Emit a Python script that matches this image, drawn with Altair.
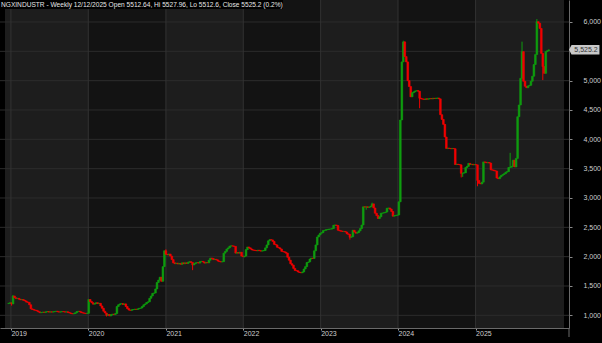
import altair as alt
import pandas as pd

# ---------------- data (weekly closes) ----------------
c2018 = [1205, 1215]
c2019 = [1195, 1330, 1300, 1285, 1290, 1275, 1265, 1270, 1255, 1245,
         1225, 1220, 1180, 1110, 1100, 1090, 1085, 1075, 1060, 1045,
         1050, 1055, 1050, 1060, 1065, 1055, 1060, 1055, 1060, 1065,
         1070, 1060, 1055, 1060, 1065, 1060, 1055, 1060, 1050, 1040,
         1030, 1025, 1030, 1045, 1065, 1070, 1060, 1045, 1040, 1035,
         1030, 1035]
c2020 = [1270, 1235, 1215, 1190, 1200, 1215, 1200, 1205, 1160, 1120,
         1070, 1040, 1000, 1015, 990, 1010, 1020, 1015, 1030, 1150,
         1180, 1195, 1200, 1185, 1195, 1150, 1115, 1090, 1085, 1095,
         1100, 1105, 1100, 1110, 1120, 1125, 1150, 1180, 1195, 1220,
         1230, 1290, 1330, 1375, 1380, 1450, 1560, 1600, 1650, 1580,
         1830, 2100]
c2021 = [2040, 2030, 2045, 2010, 1950, 1895, 1880, 1890, 1875, 1885,
         1870, 1895, 1880, 1895, 1885, 1905, 1915, 1900, 1860, 1880,
         1895, 1900, 1890, 1915, 1920, 1910, 1890, 1900, 1895, 1940,
         1975, 1970, 1950, 1955, 1945, 1925, 1915, 1910, 1915, 2060,
         2090, 2130, 2150, 2180, 2185, 2180, 2175, 2060, 2070, 2060,
         2075, 2010, 2000]
c2022 = [2010, 2120, 2165, 2150, 2130, 2115, 2110, 2105, 2100, 2110,
         2100, 2095, 2100, 2105, 2150, 2200, 2270, 2290, 2285, 2260,
         2210, 2200, 2160, 2150, 2130, 2090, 2085, 2075, 2060, 1990,
         1940, 1880, 1855, 1800, 1765, 1760, 1740, 1730, 1725, 1740,
         1790, 1830, 1900, 1910, 1960, 1975, 1970, 2100, 2200, 2335,
         2370, 2400]
c2023 = [2410, 2445, 2450, 2460, 2465, 2470, 2470, 2480, 2535, 2540,
         2530, 2450, 2440, 2435, 2430, 2430, 2420, 2390, 2380, 2330,
         2340, 2450, 2420, 2400, 2410, 2440, 2480, 2540, 2850, 2845,
         2850, 2840, 2845, 2860, 2900, 2830, 2740, 2700, 2650, 2680,
         2740, 2745, 2750, 2760, 2825, 2830, 2810, 2770, 2690, 2700,
         2705, 2710]
c2024 = [2935, 4330, 5320, 5660, 5410, 5320, 5000, 4900, 4725, 4795,
         4810, 4825, 4830, 4820, 4700, 4690, 4685, 4680, 4690, 4685,
         4690, 4695, 4690, 4700, 4695, 4700, 4705, 4690, 4420, 4340,
         4255, 4040, 3845, 3850, 3845, 3840, 3845, 3840, 3570, 3575,
         3570, 3565, 3420, 3425, 3430, 3520, 3540, 3590, 3570, 3575,
         3565, 3570]
c2025 = [3565, 3300, 3250, 3240, 3270, 3615, 3610, 3600, 3605, 3595,
         3480, 3475, 3465, 3460, 3340, 3330, 3360, 3385, 3400, 3415,
         3440, 3450, 3520, 3525, 3540, 3645, 3530, 3675, 4385, 4585,
         5040, 5495, 4990, 4905, 4880, 4910, 4920, 4990, 5075, 5275,
         5445, 6005, 5980, 5890, 5465, 5240, 5125, 5495, 5510, 5525.2]
first_open = 1200

# wicks that reach beyond the bodies: (year, week index, value)
wick_high = [(2019, 1, 1345), (2021, 0, 2125), (2024, 3, 5680), (2024, 4, 5670),
             (2025, 23, 3770), (2025, 31, 5665), (2025, 41, 6050), (2023, 34, 2920)]
wick_low = [(2019, 0, 1165), (2020, 12, 980), (2021, 18, 1770), (2022, 0, 1990),
            (2023, 19, 2290), (2024, 14, 4530), (2024, 42, 3350), (2024, 43, 3360),
            (2025, 1, 3200), (2025, 45, 5010), (2023, 30, 2800)]

grid_values = [1000, 1500, 2000, 2500, 3000, 3500, 4000, 4500, 5000, 5500, 6000]
y_labels = [1000, 1500, 2000, 2500, 3000, 3500, 4000, 4500, 5000, 6000]  # 5,500 is hidden by the price tag
year_ticks = [2019, 2020, 2021, 2022, 2023, 2024, 2025]
title_text = "NGXINDUSTR - Weekly 12/12/2025 Open 5512.64, Hi 5527.96, Lo 5512.6, Close 5525.2 (0.2%)"

by_year = {2018: c2018, 2019: c2019, 2020: c2020, 2021: c2021,
           2022: c2022, 2023: c2023, 2024: c2024, 2025: c2025}

rows = []
prev = first_open
for yr, vals in by_year.items():
    start = "2018-12-15" if yr == 2018 else f"{yr}-01-01"
    dates = pd.date_range(start, f"{yr}-12-31", freq="W-FRI")
    for k, (d, c) in enumerate(zip(dates, vals)):
        o = prev
        rows.append(dict(date=d.strftime("%Y-%m-%d"), year=yr, wk=k, open=o, close=c,
                         high=max(o, c), low=min(o, c)))
        prev = c
df = pd.DataFrame(rows)
for yr, k, v in wick_high:
    df.loc[(df.year == yr) & (df.wk == k), "high"] = v
for yr, k, v in wick_low:
    df.loc[(df.year == yr) & (df.wk == k), "low"] = v

# ---------------- styling ----------------
W, H = 569, 328
UP, DOWN = "#0f9c0f", "#f00000"
FONT = "Liberation Sans"
x_dom = ["2018-12-04", "2026-02-22"]
xscale = alt.Scale(domain=x_dom)
yscale = alt.Scale(domain=[784, 6375], nice=False, zero=False)

xaxis = alt.Axis(values=[alt.DateTime(year=y, month=1, date=1) for y in year_ticks],
                 format="%Y", labelAlign="left", labelAngle=0, labelColor="#cfcfcf",
                 labelFontSize=7, labelFont=FONT, labelPadding=-1, labelBaseline="top",
                 tickSize=2, tickColor="#9a9a9a", domainColor="#6a6a6a",
                 grid=False, title=None, labelFlush=False, labelOverlap=False)
yaxis = alt.Axis(orient="right", values=y_labels, format=",.0f", labelColor="#cfcfcf",
                 labelFontSize=7, labelFont=FONT, labelPadding=11, tickSize=3,
                 tickColor="#8a8a8a", domainColor="#6a6a6a", grid=False, title=None,
                 labelAlign="left", labelBaseline="middle", labelFlush=False)

# year bands
band_rows = []
edges = [x_dom[0]] + [f"{y}-01-01" for y in year_ticks[1:]] + [x_dom[1]]
for i in range(len(edges) - 1):
    band_rows.append(dict(start=edges[i], end=edges[i + 1], shade="light" if i % 2 == 0 else "dark"))
bands = alt.Chart(pd.DataFrame(band_rows)).mark_rect().encode(
    x=alt.X("start:T", scale=xscale, axis=xaxis),
    x2="end:T",
    color=alt.Color("shade:N", scale=alt.Scale(domain=["light", "dark"], range=["#1d1d1d", "#131313"]), legend=None),
)

hgrid = alt.Chart(pd.DataFrame({"v": grid_values})).mark_rule(color="#2c2c2c", strokeWidth=1).encode(
    y=alt.Y("v:Q", scale=yscale, axis=yaxis))
vgrid = alt.Chart(pd.DataFrame({"d": [f"{y}-01-01" for y in year_ticks]})).mark_rule(
    color="#333333", strokeWidth=1).encode(x=alt.X("d:T", scale=xscale, axis=xaxis))

updown = alt.condition("datum.close >= datum.open", alt.value(UP), alt.value(DOWN))
base = alt.Chart(df)
wicks = base.mark_rule(strokeWidth=1).encode(
    x=alt.X("date:T", scale=xscale, axis=xaxis),
    y=alt.Y("low:Q", scale=yscale, axis=yaxis),
    y2="high:Q",
    color=updown,
)
bodies = base.mark_bar(width=1.7, strokeWidth=0.6).encode(
    x=alt.X("date:T", scale=xscale, axis=xaxis),
    y=alt.Y("open:Q", scale=yscale, axis=yaxis),
    y2="close:Q",
    color=updown,
    stroke=updown,
)

last = alt.Chart(df.tail(1))
tag_shape = "M-1.74,0L-1.47,-0.5L1.47,-0.5L1.47,0.5L-1.47,0.5Z"
tag = last.mark_point(shape=tag_shape, filled=True, size=361, opacity=1, color="#c8c8c8").encode(
    x=alt.value(585.5), y=alt.Y("close:Q", scale=yscale, axis=yaxis))
tag_text = last.mark_text(fontSize=7, font=FONT, color="#333333", align="center", baseline="middle").encode(
    x=alt.value(586), y=alt.Y("close:Q", scale=yscale, axis=yaxis),
    text=alt.Text("close:Q", format=",.1f"))

axis_tail = alt.Chart(alt.Data(values=[{}])).mark_rule(color="#6a6a6a").encode(
    x=alt.value(W), y=alt.value(H), y2=alt.value(H + 9))

title_bg = alt.Chart(alt.Data(values=[{}])).mark_rect(color="#000000").encode(
    x=alt.value(0), x2=alt.value(283), y=alt.value(0), y2=alt.value(9))
title = alt.Chart(alt.Data(values=[{"t": title_text}])).mark_text(
    align="left", baseline="top", fontSize=6.6, font=FONT, color="#e6e6e6").encode(
    x=alt.value(1), y=alt.value(1.5), text="t:N")

chart = alt.layer(bands, hgrid, vgrid, wicks, bodies, tag, tag_text, axis_tail, title_bg, title).properties(
    width=W, height=H,
    padding={"left": 0, "top": 0, "right": 33, "bottom": 15},
    autosize=alt.AutoSizeParams(type="none"),
    background="#000000",
).configure_view(stroke=None)

chart.save("out.html", embed_options={"renderer": "svg", "actions": False})
